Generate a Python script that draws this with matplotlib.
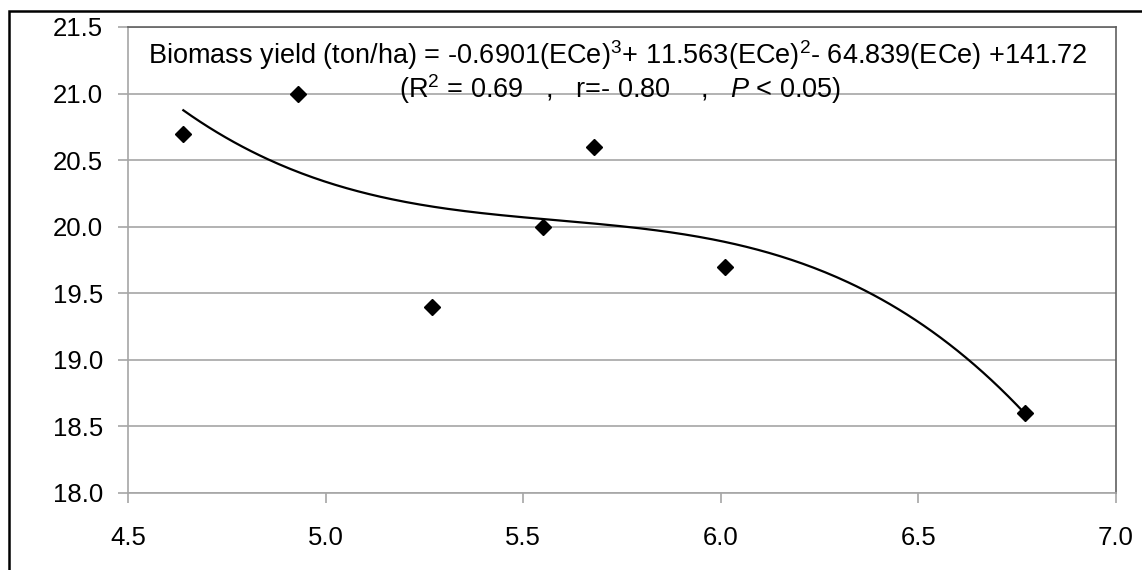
import numpy as np
import matplotlib
matplotlib.use("Agg")
import matplotlib.pyplot as plt
from matplotlib.patches import Rectangle

plt.rcParams['font.family'] = ['Liberation Sans', 'DejaVu Sans']
plt.rcParams['mathtext.fontset'] = 'custom'
plt.rcParams['mathtext.rm'] = 'Liberation Sans'
plt.rcParams['mathtext.it'] = 'Liberation Sans:italic'

# Observed points: soil salinity (ECe) vs biomass yield (ton/ha)
ece = [4.64, 4.93, 5.27, 5.55, 5.68, 6.01, 6.77]
biomass = [20.7, 21.0, 19.4, 20.0, 20.6, 19.7, 18.6]

# Cubic trendline coefficients (highest power first)
poly_coef = [-0.6901, 11.563, -64.839, 141.72]

x_ticks = [4.5, 5.0, 5.5, 6.0, 6.5, 7.0]
y_ticks = [18.0, 18.5, 19.0, 19.5, 20.0, 20.5, 21.0, 21.5]

eq_line1 = ("Biomass yield (ton/ha) = -0.6901(ECe)$^{3}$+ 11.563(ECe)$^{2}$- "
            "64.839(ECe) +141.72")
eq_line2 = "(R$^{2}$ = 0.69   ,   r=- 0.80    ,   $\\mathit{P}$ < 0.05)"

W, H = 1142, 570
fig = plt.figure(figsize=(W / 100, H / 100), dpi=100)
fig.patch.set_facecolor('white')

left, right, top, bottom = 128, 1116, 27, 493
ax = fig.add_axes([left / W, 1 - bottom / H, (right - left) / W, (bottom - top) / H])

# Outer frame (only left and top edges fall inside the canvas)
fig.patches.append(Rectangle((9 / W, -0.2), 1.2, 1.2 - 11 / H,
                             transform=fig.transFigure, fill=False,
                             edgecolor='black', linewidth=1.8, zorder=10))

grid_c = '#a6a6a6'
ax.set_xlim(x_ticks[0], x_ticks[-1])
ax.set_ylim(y_ticks[0], y_ticks[-1])
ax.set_xticks(x_ticks)
ax.set_yticks(y_ticks)
ax.set_xticklabels([f"{v:.1f}" for v in x_ticks])
ax.set_yticklabels([f"{v:.1f}" for v in y_ticks])
ax.yaxis.grid(True, color=grid_c, linewidth=1.2)
ax.set_axisbelow(True)

for side in ('left', 'bottom'):
    ax.spines[side].set_color(grid_c)
    ax.spines[side].set_linewidth(1.2)
for side in ('top', 'right'):
    ax.spines[side].set_color('#606060')
    ax.spines[side].set_linewidth(1.2)

ax.tick_params(axis='both', colors=grid_c, labelcolor='black', labelsize=18.5,
               length=7, width=1.2, direction='out')
ax.tick_params(axis='y', pad=11)
ax.tick_params(axis='x', pad=17)

# Trendline over the observed range
xs = np.linspace(min(ece), max(ece), 300)
ax.plot(xs, np.polyval(poly_coef, xs), color='black', linewidth=1.6, zorder=3)

ax.plot(ece, biomass, linestyle='none', marker='D', markersize=8.5,
        color='black', zorder=4)

ax.text(0.496, 0.920, eq_line1, transform=ax.transAxes, ha='center',
        va='baseline', fontsize=19.5)
ax.text(0.498, 0.848, eq_line2, transform=ax.transAxes, ha='center',
        va='baseline', fontsize=19.5)

fig.savefig('out.png', dpi=100, facecolor='white')
